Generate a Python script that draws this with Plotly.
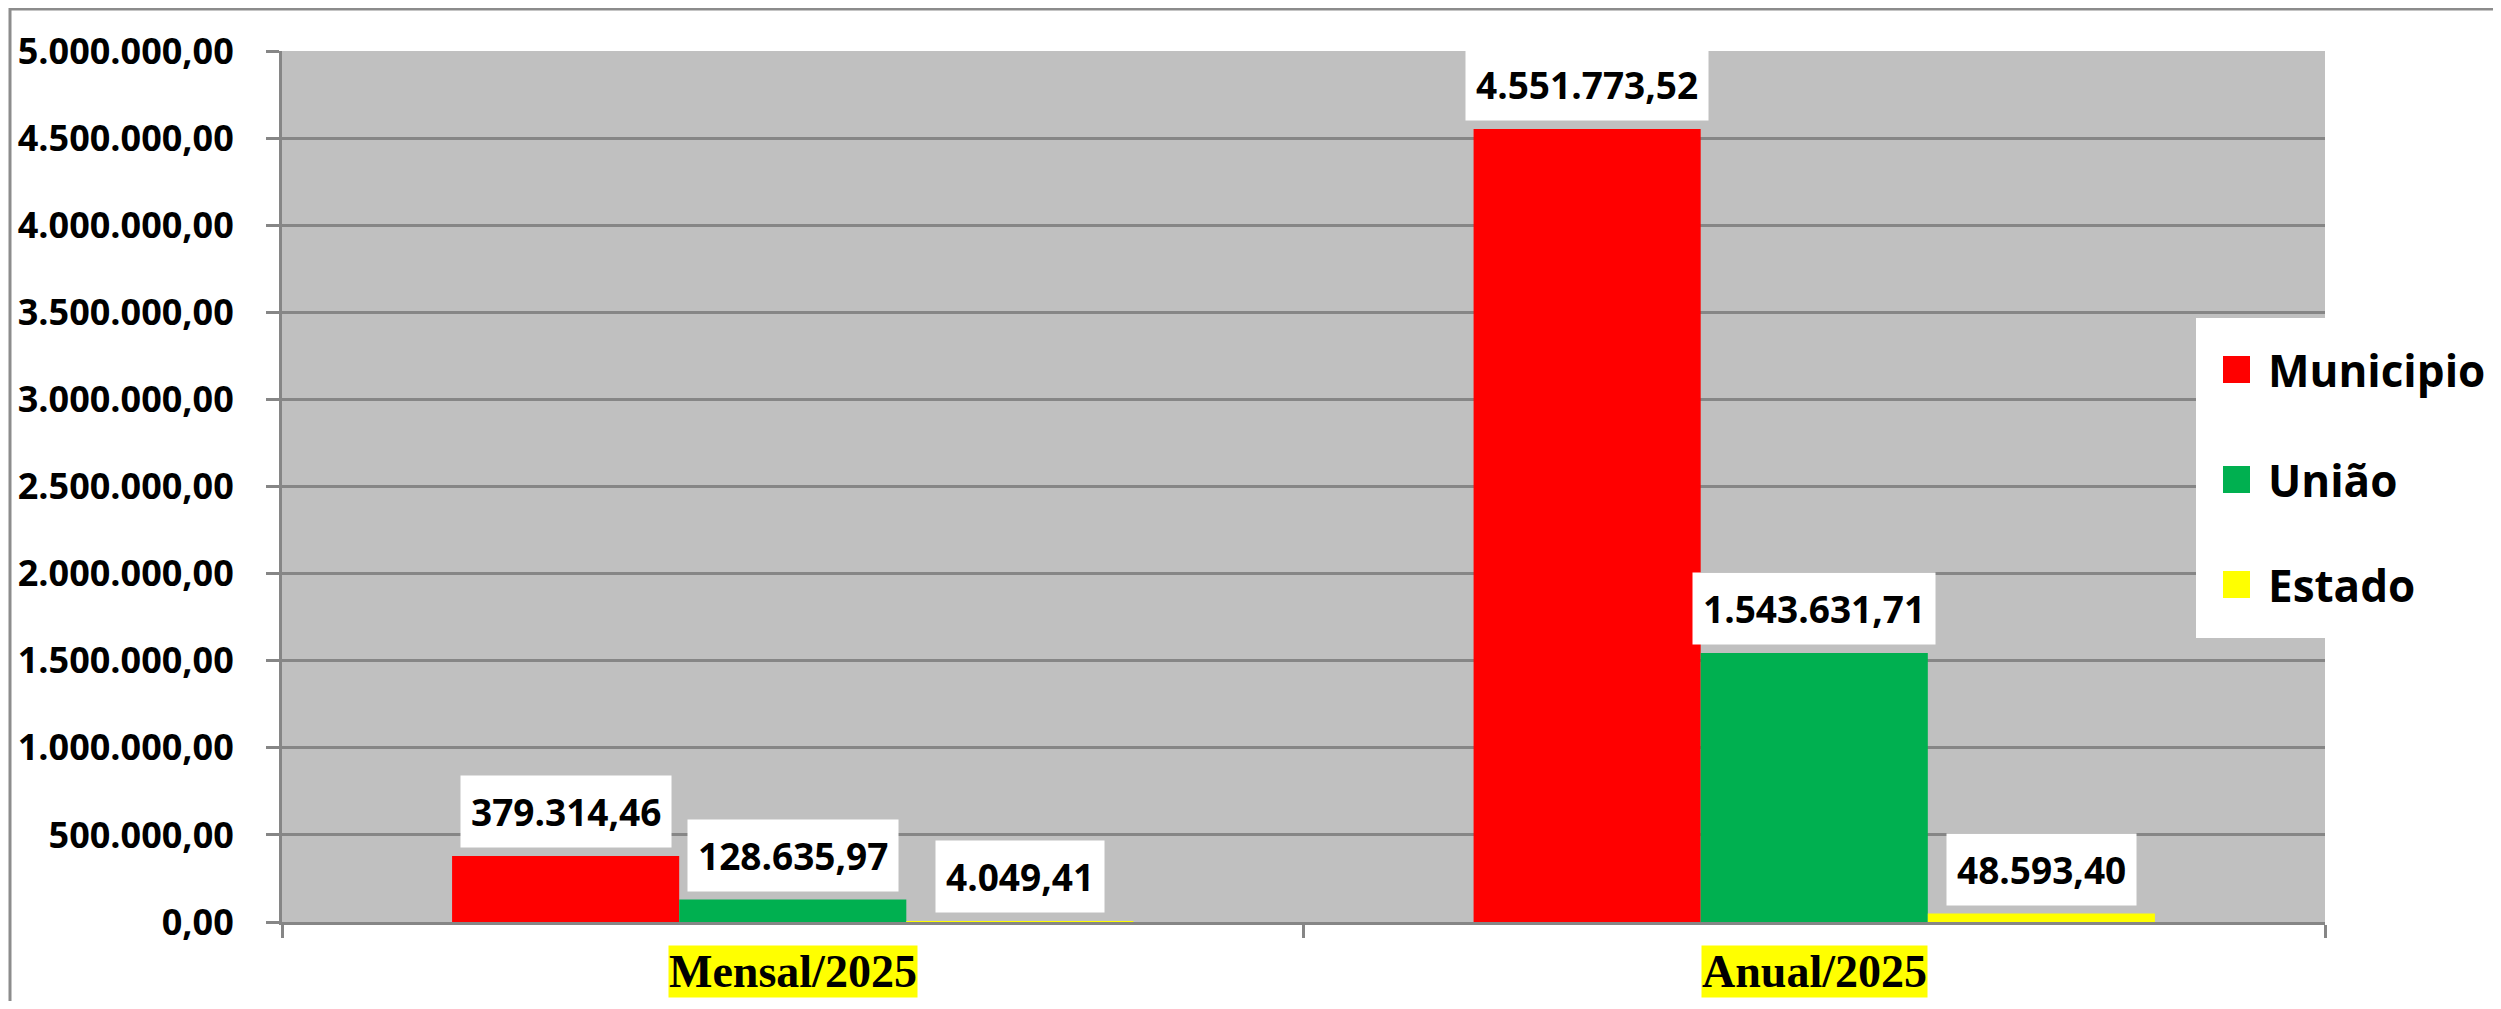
import plotly.graph_objects as go

categories = ["Mensal/2025", "Anual/2025"]
series_names = ["Municipio", "União", "Estado"]
municipio = [379314.46, 4551773.52]
uniao = [128635.97, 1543631.71]
estado = [4049.41, 48593.40]
series_colors = ["#FF0000", "#00B050", "#FFFF00"]

# the page body adds an 8px margin, so the figure is a bit smaller than the window
OFF = 8
W, H = 2501 - 2 * OFF, 1009 - 2 * OFF
plot_w, plot_h = 2043, 871
ML, MT = 282 - OFF, 51 - OFF
MR = W - ML - plot_w
MB = H - MT - plot_h
bargap = 0.333
bar_px = plot_w / len(categories) * (1 - bargap) / 3


def px_x(px):
    # page pixel -> paper coordinate
    return (px - OFF - ML) / plot_w


def px_y(py):
    return (MT + plot_h - (py - OFF)) / plot_h


def fmt_br(v):
    # 1,234.56 -> 1.234,56
    return f"{v:,.2f}".replace(",", "X").replace(".", ",").replace("X", ".")


label_font = dict(family="Open Sans", size=37, color="black", weight="bold")

fig = go.Figure()
annotations = []
for i, (name, vals, col) in enumerate(zip(series_names, [municipio, uniao, estado], series_colors)):
    fig.add_trace(go.Bar(x=categories, y=vals, name=name, marker=dict(color=col, line=dict(width=0)),
                         showlegend=False))
    for cat, v in zip(categories, vals):
        annotations.append(dict(x=cat, y=v, xref="x", yref="y", text=fmt_br(v), showarrow=False,
                                xshift=(i - 1) * bar_px, yanchor="bottom", yshift=8,
                                bgcolor="white", borderpad=10, font=label_font))

# category labels with yellow highlight
for cat in categories:
    annotations.append(dict(x=cat, y=0, xref="x", yref="paper", text=cat, showarrow=False,
                            yanchor="top", yshift=-23, bgcolor="#FFFF00", borderpad=0,
                            font=dict(family="Liberation Serif", size=46, color="black", weight="bold")))

shapes = [
    # outer frame
    dict(type="rect", xref="paper", yref="paper", x0=px_x(10), x1=px_x(2530), y0=px_y(1030), y1=px_y(OFF + 1),
         line=dict(color="#8C8C8C", width=3), fillcolor="rgba(0,0,0,0)", layer="below"),
    # legend box
    dict(type="rect", xref="paper", yref="paper", x0=px_x(2196), x1=px_x(2530), y0=px_y(638), y1=px_y(318),
         line=dict(width=0), fillcolor="white", layer="above"),
]
leg_y = [370, 480, 585]
for name, col, ly in zip(series_names, series_colors, leg_y):
    shapes.append(dict(type="rect", xref="paper", yref="paper", x0=px_x(2223), x1=px_x(2250),
                       y0=px_y(ly + 13), y1=px_y(ly - 14), line=dict(width=0), fillcolor=col, layer="above"))
    annotations.append(dict(x=px_x(2266), y=px_y(ly), xref="paper", yref="paper", text=name, showarrow=False,
                            xanchor="left", yanchor="middle",
                            font=dict(family="Open Sans", size=44, color="black", weight="bold")))

fig.update_layout(
    width=W, height=H,
    margin=dict(l=ML, r=MR, t=MT, b=MB, autoexpand=False),
    paper_bgcolor="white",
    plot_bgcolor="#C0C0C0",
    barmode="group",
    bargap=bargap,
    bargroupgap=0,
    separators=",.",
    showlegend=False,
    annotations=annotations,
    shapes=shapes,
    xaxis=dict(type="category", showgrid=False, showline=True, linecolor="#868686", linewidth=3,
               ticks="outside", tickson="boundaries", ticklen=13, tickwidth=3, tickcolor="#868686",
               showticklabels=False, fixedrange=True, automargin=False),
    yaxis=dict(range=[0, 5000000], dtick=500000, tickformat=",.2f", showgrid=True, gridcolor="#868686",
               gridwidth=3, showline=True, linecolor="#868686", linewidth=3, zeroline=False,
               ticks="outside", ticklen=13, tickwidth=3, tickcolor="#868686", ticklabelstandoff=25,
               automargin=False,
               tickfont=dict(family="Open Sans", size=36, color="black", weight="bold")),
)

fig.write_html("out.html")
